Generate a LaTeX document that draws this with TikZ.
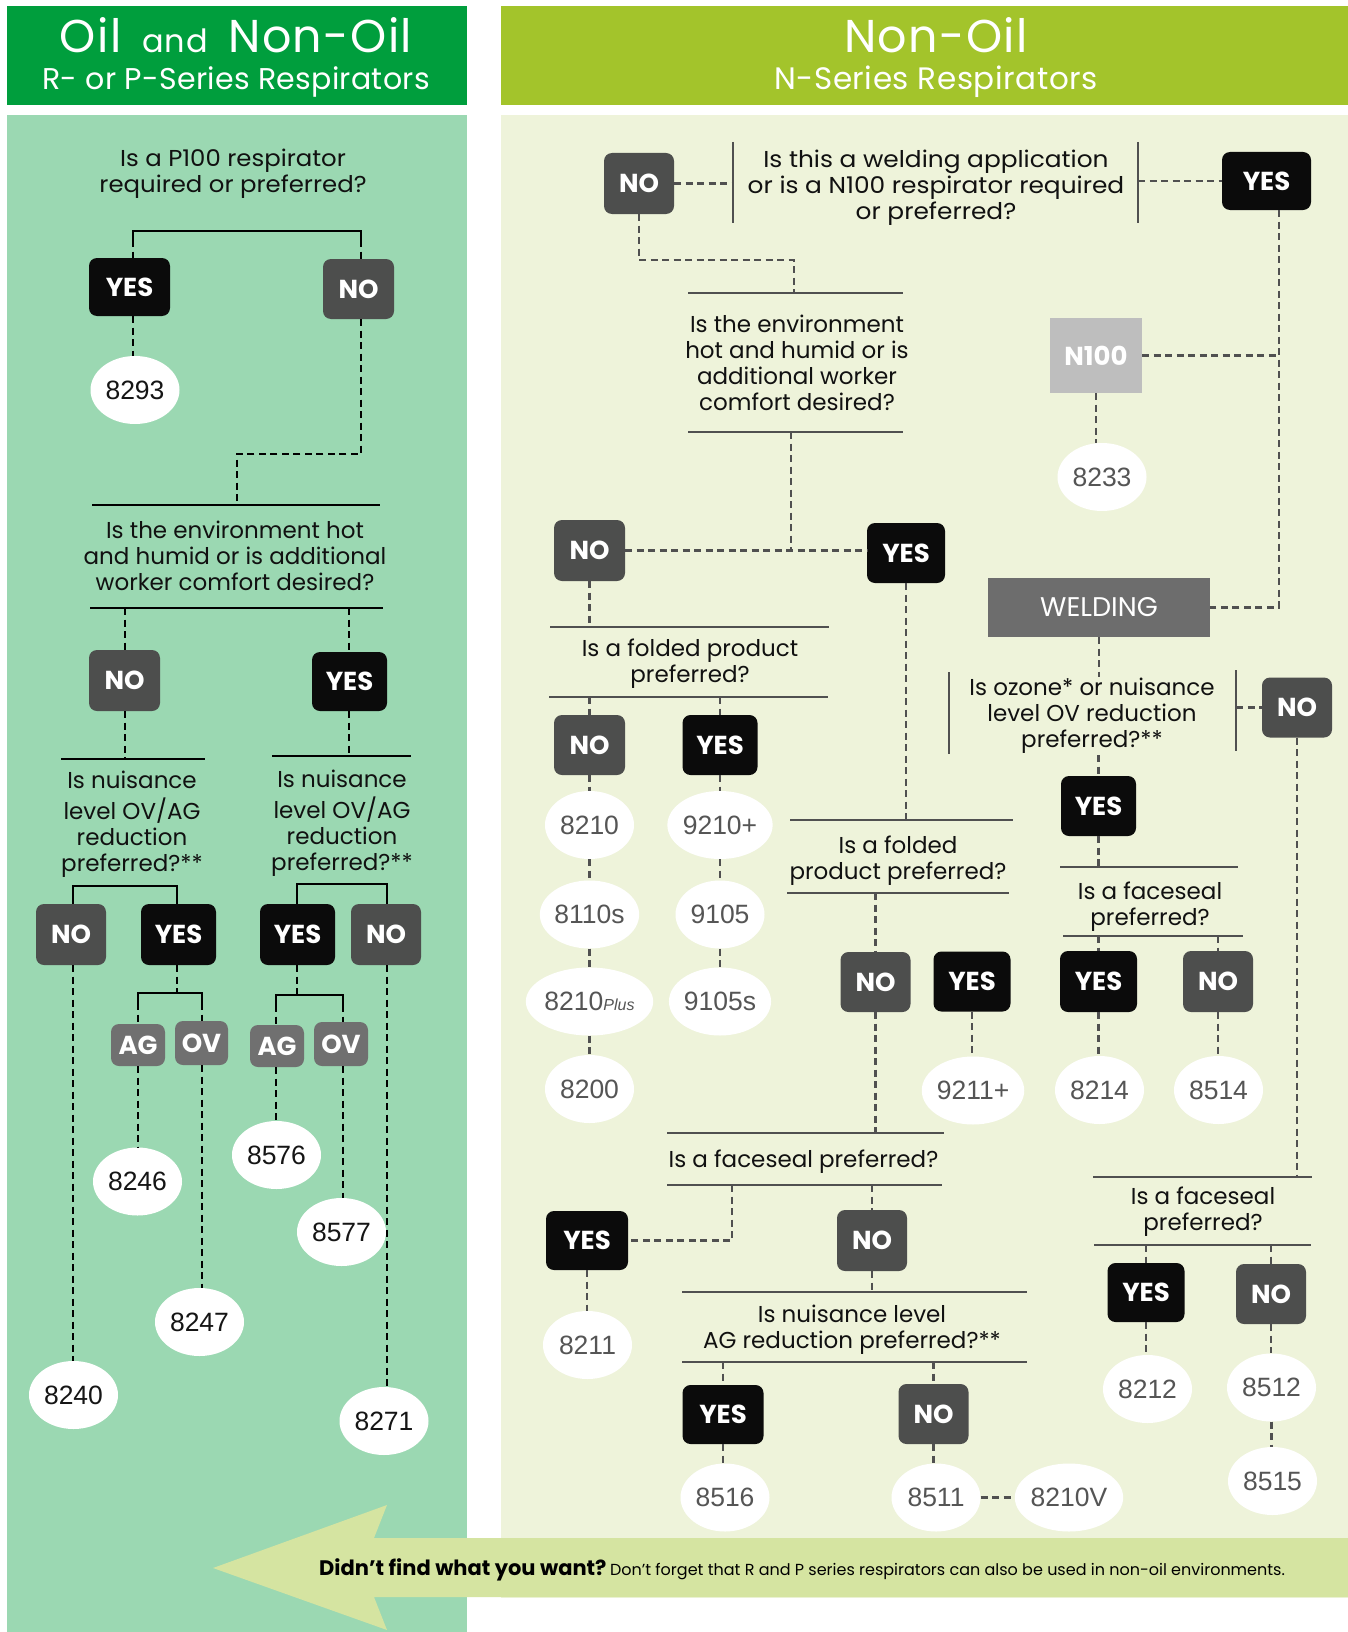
\documentclass[tikz,border=0pt]{standalone}
\usepackage{fontspec}
\setmainfont{Poppins}
\newfontfamily\mypop{Poppins}
\newfontfamily\mypopw{Poppins}[FakeStretch=1.06]
\newfontfamily\mypopww{Poppins}[FakeStretch=1.08]
\newfontfamily\myhead{Poppins}[LetterSpace=3]
\newfontfamily\myheadl{Poppins}[LetterSpace=1]
\newfontfamily\myheadr{Poppins}[LetterSpace=1.8]
\newfontfamily\mynumf{Liberation Sans}
\usetikzlibrary{calc,shapes.geometric}
\definecolor{hdgreen}{HTML}{009E3D}
\definecolor{hdlime}{HTML}{A3C42B}
\definecolor{bodyg}{HTML}{9BD8B2}
\definecolor{bodyl}{HTML}{EEF3DA}
\definecolor{banc}{HTML}{D5E4A1}
\definecolor{yesc}{HTML}{0B0B0B}
\definecolor{noc}{HTML}{4D4E4D}
\definecolor{agc}{HTML}{707070}
\definecolor{nhc}{HTML}{BEBEBE}
\definecolor{weldc}{HTML}{6D6D6D}
\definecolor{lineg}{HTML}{505050}
\definecolor{numg}{HTML}{555555}
\definecolor{numk}{HTML}{151515}
\definecolor{qk}{HTML}{111111}
\newcommand\myqf{\mypop\fontsize{23}{26}\selectfont}
\newcommand\myqfw{\mypopw\fontsize{23}{26}\selectfont}
\newcommand\myqfww{\mypopww\fontsize{23}{26}\selectfont}
\newcommand\mybf{\mypop\bfseries\fontsize{26}{28}\selectfont}
\newcommand\mynf{\mynumf\fontsize{26.5}{28}\selectfont}
\tikzset{
  rk/.style={draw=black, line width=2.6pt},
  dk/.style={draw=black, line width=2.4pt, dash pattern=on 7pt off 4.5pt},
  rg/.style={draw=lineg, line width=2.6pt},
  dg/.style={draw=lineg, line width=2.4pt, dash pattern=on 7pt off 4.5pt},
  bx/.style={rectangle, rounded corners=8pt, inner sep=0pt, text=white, font=\mybf},
  yb/.style={bx, fill=yesc},
  nb/.style={bx, fill=noc},
  gb/.style={bx, fill=agc},
  ovbase/.style={ellipse, fill=white, inner sep=0pt, minimum width=89pt, minimum height=68pt, font=\mynf},
  ovl/.style={ovbase, text=numk},
  ovr/.style={ovbase, text=numg},
  qq/.style={align=center, inner sep=0pt, font=\myqf, text=qk},
}
\begin{document}
\begin{tikzpicture}[x=1pt,y=-1pt]
\useasboundingbox (0,0) rectangle (1348,1632);
% ---------- backgrounds ----------
\fill[white] (0,0) rectangle (1348,1632);
\fill[hdgreen] (7,6) rectangle (467,105);
\fill[hdlime] (501,6) rectangle (1348,105);
\fill[bodyg] (7,115) rectangle (467,1632);
\fill[bodyl] (501,115) rectangle (1348,1598);
\fill[banc] (213,1568) -- (387,1505) -- (374,1538) -- (1348,1538) -- (1348,1597) -- (374,1597) -- (387,1630) -- cycle;
% ---------- headers ----------
\node[anchor=base, text=white, inner sep=0pt] (h1) at (236,53) {\myhead\fontsize{46}{50}\selectfont Oil\hspace{7pt} {\fontsize{32}{34}\selectfont and}\hspace{7pt} Non-Oil};
\node[anchor=base, text=white, inner sep=0pt] (h1b) at (236,90) {\myheadl\fontsize{30}{34}\selectfont R- or P-Series Respirators};
\node[anchor=base, text=white, inner sep=0pt] (h2) at (936,53) {\myhead\fontsize{46}{50}\selectfont Non-Oil};
\node[anchor=base, text=white, inner sep=0pt] (h2b) at (936,90) {\myheadr\fontsize{31}{34}\selectfont N-Series Respirators};
% ---------- banner text ----------
\node[anchor=base west, inner sep=0pt, text=black] (bant) at (319,1575) {{\mypop\bfseries\fontsize{21}{24}\selectfont Didn’t find what you want?} {\mypop\fontsize{16}{18}\selectfont Don’t forget that R and P series respirators can also be used in non-oil environments.}};

% =============== LEFT PANEL ===============
\node[qq, font=\myqfw] (q1) at (233,174.8) {\strut Is a P100 respirator\\\strut required or preferred?};
\coordinate (b1l) at (133,231); \coordinate (b1r) at (361,231);
\node[yb, minimum width=81pt, minimum height=58pt] (yes1) at (129.5,287) {YES};
\node[nb, minimum width=71pt, minimum height=60pt] (no1) at (358.5,289) {NO};
\node[ovl] (o8293) at (135,390) {8293};
\draw[rk] ($(b1l)+(0,9)$) -- (b1l) -- (b1r) -- ($(b1r)+(0,9)$);
\draw[dk] ($(b1l)+(0,9)$) -- (b1l |- yes1.north);
\draw[dk] ($(b1r)+(0,9)$) -- (b1r |- no1.north);
\draw[dk] (b1l |- yes1.south) -- (b1l |- o8293.north);

\coordinate (j1) at (237,454);
\coordinate (q2a) at (92,505); \coordinate (q2b) at (380,505);
\coordinate (q2c) at (90,608); \coordinate (q2d) at (383,608);
\draw[rk] (q2a) -- (q2b);
\draw[rk] (q2c) -- (q2d);
\node[qq] (q2) at (235,558.8) {\strut Is the environment hot\\\strut and humid or is additional\\\strut worker comfort desired?};
\draw[dk] (b1r |- no1.south) |- (j1) -- (j1 |- q2a);

\node[nb, minimum width=71pt, minimum height=61pt] (no2) at (124.5,680.5) {NO};
\node[yb, minimum width=75pt, minimum height=59pt] (yes2) at (349.5,681.5) {YES};
\coordinate (x125) at (125,0); \coordinate (x349) at (349,0);
\draw[dk] (x125 |- q2c) -- (x125 |- no2.north);
\draw[dk] (x349 |- q2c) -- (x349 |- yes2.north);
\coordinate (q3aL) at (61,759); \coordinate (q3aR) at (205,759);
\coordinate (q3bL) at (272,756); \coordinate (q3bR) at (411,756);
\draw[rk] (q3aL) -- (q3aR);
\draw[rk] (q3bL) -- (q3bR);
\draw[dk] (x125 |- no2.south) -- (x125 |- q3aL);
\draw[dk] (x349 |- yes2.south) -- (x349 |- q3bL);
\node[qq] (q3a) at (132,824.8) {\strut Is nuisance\\\strut level OV/AG\\\strut reduction\\\strut preferred?**};
\node[qq] (q3b) at (342,823.8) {\strut Is nuisance\\\strut level OV/AG\\\strut reduction\\\strut preferred?**};

\node[nb, minimum width=70pt, minimum height=61pt] (no3a) at (71,934.5) {NO};
\node[yb, minimum width=75pt, minimum height=61pt] (yes3a) at (178.5,934.5) {YES};
\node[yb, minimum width=75pt, minimum height=61pt] (yes3b) at (297.5,934.5) {YES};
\node[nb, minimum width=70pt, minimum height=61pt] (no3b) at (386,934.5) {NO};
\coordinate (c3l) at (73,886); \coordinate (c3r) at (177,886);
\coordinate (d3l) at (297,884); \coordinate (d3r) at (387,884);
\draw[rk] (c3l |- no3a.north) |- (c3r) -- (c3r |- yes3a.north);
\draw[rk] (d3l |- yes3b.north) |- (d3r) -- (d3r |- no3b.north);

\node[gb, minimum width=54pt, minimum height=42pt] (ag1) at (138,1045) {AG};
\node[gb, minimum width=53pt, minimum height=44pt] (ov1) at (201.5,1043) {OV};
\node[gb, minimum width=54pt, minimum height=42pt] (ag2) at (277,1046) {AG};
\node[gb, minimum width=54pt, minimum height=44pt] (ov2) at (341,1044) {OV};
\coordinate (e1l) at (138,993); \coordinate (e1r) at (202,993); \coordinate (e1m) at (177,993);
\coordinate (e2l) at (276,995); \coordinate (e2r) at (343,995); \coordinate (e2m) at (297,995);
\draw[dk] (e1m |- yes3a.south) -- (e1m);
\draw[dk] (e2m |- yes3b.south) -- (e2m);
\draw[rk] ($(e1l)+(0,10)$) -- (e1l) -- (e1r) -- ($(e1r)+(0,10)$);
\draw[rk] ($(e2l)+(0,10)$) -- (e2l) -- (e2r) -- ($(e2r)+(0,10)$);
\draw[dk] ($(e1l)+(0,10)$) -- (e1l |- ag1.north);
\draw[dk] ($(e1r)+(0,10)$) -- (e1r |- ov1.north);
\draw[dk] ($(e2l)+(0,10)$) -- (e2l |- ag2.north);
\draw[dk] ($(e2r)+(0,10)$) -- (e2r |- ov2.north);

\node[ovl] (o8240) at (73.5,1395) {8240};
\node[ovl] (o8246) at (137.5,1181.5) {8246};
\node[ovl] (o8247) at (199.5,1322) {8247};
\node[ovl] (o8576) at (276.5,1155) {8576};
\node[ovl] (o8577) at (341.5,1232) {8577};
\node[ovl] (o8271) at (384,1421) {8271};
\draw[dk] (c3l |- no3a.south) -- (c3l |- o8240.north);
\draw[dk] (e1l |- ag1.south) -- (e1l |- o8246.north);
\draw[dk] (e1r |- ov1.south) -- (e1r |- o8247.north);
\draw[dk] (e2l |- ag2.south) -- (e2l |- o8576.north);
\draw[dk] (e2r |- ov2.south) -- (e2r |- o8577.north);
\draw[dk] (d3r |- no3b.south) -- (d3r |- o8271.north);

% =============== RIGHT PANEL ===============
\node[nb, minimum width=70pt, minimum height=61pt] (noT) at (639,183.5) {NO};
\node[yb, minimum width=89pt, minimum height=58pt] (yesT) at (1266.5,181) {YES};
\node[qq, font=\myqfww] (qT) at (936,187.8) {\strut Is this a welding application\\\strut or is a N100 respirator required\\\strut or preferred?};
\coordinate (tL1) at (733,142); \coordinate (tL2) at (733,223);
\coordinate (tR1) at (1138,142); \coordinate (tR2) at (1138,223);
\draw[rg] (tL1) -- (tL2);
\draw[rg] (tR1) -- (tR2);
\draw[dg] (noT.east) -- (noT.east -| tL1);
\draw[dg] (tR1 |- yesT.west) -- (yesT.west);

\coordinate (jE) at (794,260);
\coordinate (eA) at (688,293); \coordinate (eB) at (903,293);
\coordinate (eC) at (688,432); \coordinate (eD) at (903,432);
\draw[rg] (eA) -- (eB);
\draw[rg] (eC) -- (eD);
\draw[dg] (noT.south) |- (jE) -- (jE |- eA);
\node[qq] (qE) at (797,365.8) {\strut Is the environment\\\strut hot and humid or is\\\strut additional worker\\\strut comfort desired?};

\coordinate (vY) at (1279,0);
\node[rectangle, fill=nhc, inner sep=0pt, minimum width=92pt, minimum height=75pt, text=white, font=\mybf] (n100) at (1096,355.5) {N100};
\node[ovr] (o8233) at (1102,477) {8233};
\node[rectangle, fill=weldc, inner sep=0pt, minimum width=222pt, minimum height=59pt, text=white, font=\mypop\fontsize{27}{30}\selectfont] (weld) at (1099,607.5) {WELDING};
\draw[dg] (vY |- yesT.south) |- (weld.east);
\draw[dg] (n100.east) -- (n100.east -| vY);
\draw[dg] (n100.south) -- (n100.south |- o8233.north);

\node[nb, minimum width=71pt, minimum height=61pt] (noE) at (589.5,550.5) {NO};
\node[yb, minimum width=78pt, minimum height=60pt] (yesE) at (906,553) {YES};
\coordinate (jNY) at (791,551);
\draw[dg] (jNY |- eC) -- (jNY);
\draw[dg] (noE.east) -- (noE.east -| yesE.west);

\coordinate (fA) at (550,627); \coordinate (fB) at (829,627);
\coordinate (fC) at (549,697); \coordinate (fD) at (828,697);
\draw[rg] (fA) -- (fB);
\draw[rg] (fC) -- (fD);
\node[qq] (qF) at (690,663.8) {\strut Is a folded product\\\strut preferred?};
\draw[dg] (noE.south) -- (noE.south |- fA);
\node[nb, minimum width=71pt, minimum height=60pt] (noF) at (589.5,745) {NO};
\node[yb, minimum width=75pt, minimum height=60pt] (yesF) at (720,745) {YES};
\draw[dg] (noF.north |- fC) -- (noF.north);
\draw[dg] (yesF.north |- fC) -- (yesF.north);
\node[ovr] (o8210) at (589.5,825) {8210};
\node[ovr] (o8110s) at (589.5,914.5) {8110s};
\node[ovr] (o8210p) at (589.5,1001.5) {8210{\itshape\fontsize{16}{18}\selectfont Plus}};
\node[ovr] (o8200) at (589.5,1089) {8200};
\node[ovr] (o9210) at (720,825) {9210+};
\node[ovr] (o9105) at (720,914.5) {9105};
\node[ovr] (o9105s) at (720,1001.5) {9105s};
\draw[dg] (noF.south) -- (o8210.north);
\draw[dg] (o8210.south) -- (o8110s.north);
\draw[dg] (o8110s.south) -- (o8210p.north);
\draw[dg] (o8210p.south) -- (o8200.north);
\draw[dg] (yesF.south) -- (o9210.north);
\draw[dg] (o9210.south) -- (o9105.north);
\draw[dg] (o9105.south) -- (o9105s.north);

\coordinate (gA) at (790,820); \coordinate (gB) at (1013,820);
\coordinate (gC) at (787,893); \coordinate (gD) at (1009,893);
\draw[rg] (gA) -- (gB);
\draw[rg] (gC) -- (gD);
\draw[dg] (yesE.south) -- (yesE.south |- gA);
\node[qq] (qG) at (898,860.8) {\strut Is a folded\\\strut product preferred?};
\node[nb, minimum width=70pt, minimum height=60pt] (noG) at (875.5,982) {NO};
\node[yb, minimum width=77pt, minimum height=60pt] (yesG) at (972,981.5) {YES};
\draw[dg] (noG.north |- gC) -- (noG.north);
\node[ovr] (o9211) at (973,1090.5) {9211+};
\draw[dg] (yesG.south) -- (yesG.south |- o9211.north);

\coordinate (hA) at (667,1133); \coordinate (hB) at (944,1133);
\coordinate (hC) at (667,1185); \coordinate (hD) at (942,1185);
\draw[rg] (hA) -- (hB);
\draw[rg] (hC) -- (hD);
\draw[dg] (noG.south) -- (noG.south |- hA);
\node[qq] (qH) at (803.5,1161.8) {\strut Is a faceseal preferred?};
\node[yb, minimum width=82pt, minimum height=59pt] (yesI) at (587,1240.5) {YES};
\node[nb, minimum width=70pt, minimum height=61pt] (noI) at (872,1240.5) {NO};
\coordinate (x732) at (732,0);
\draw[dg] (x732 |- hC) |- (yesI.east);
\draw[dg] (noI.north |- hC) -- (noI.north);
\node[ovr] (o8211) at (587.5,1345) {8211};
\draw[dg] (yesI.south) -- (yesI.south |- o8211.north);

\coordinate (iA) at (682,1292); \coordinate (iB) at (1027,1292);
\coordinate (iC) at (682,1362); \coordinate (iD) at (1027,1362);
\draw[rg] (iA) -- (iB);
\draw[rg] (iC) -- (iD);
\draw[dg] (noI.south) -- (noI.south |- iA);
\node[qq] (qI) at (852,1329.8) {\strut Is nuisance level\\\strut AG reduction preferred?**};
\node[yb, minimum width=81pt, minimum height=59pt] (yesJ) at (723,1414.5) {YES};
\node[nb, minimum width=70pt, minimum height=60pt] (noJ) at (933.5,1414) {NO};
\draw[dg] (yesJ.north |- iC) -- (yesJ.north);
\draw[dg] (noJ.north |- iC) -- (noJ.north);
\node[ovr] (o8516) at (725,1497.5) {8516};
\node[ovr] (o8511) at (936,1497.5) {8511};
\node[ovr] (o8210v) at (1069,1497.5) {8210V};
\draw[dg] (yesJ.south) -- (yesJ.south |- o8516.north);
\draw[dg] (noJ.south) -- (noJ.south |- o8511.north);
\draw[dg] (o8511.east) -- (o8210v.west);

% ozone branch
\node[qq] (qZ) at (1092,715.8) {\strut Is ozone* or nuisance\\\strut level OV reduction\\\strut preferred?**};
\coordinate (zL1) at (949,672); \coordinate (zL2) at (949,754);
\coordinate (zR1) at (1236,670); \coordinate (zR2) at (1236,751);
\draw[rg] (zL1) -- (zL2);
\draw[rg] (zR1) -- (zR2);
\draw[dg] (weld.south) -- (weld.south |- qZ.north);
\node[nb, minimum width=70pt, minimum height=60pt] (noZ) at (1297,707.5) {NO};
\draw[dg] (zR1 |- noZ.west) -- (noZ.west);
\node[yb, minimum width=75pt, minimum height=60pt] (yesZ) at (1098.5,806) {YES};
\draw[dg] (yesZ.north |- qZ.south) -- (yesZ.north);

\coordinate (kA) at (1060,867); \coordinate (kB) at (1238,867);
\coordinate (kC) at (1063,936); \coordinate (kD) at (1243,936);
\draw[rg] (kA) -- (kB);
\draw[rg] (kC) -- (kD);
\draw[dg] (yesZ.south) -- (yesZ.south |- kA);
\node[qq] (qK) at (1150,906.8) {\strut Is a faceseal\\\strut preferred?};
\node[yb, minimum width=77pt, minimum height=61pt] (yesH) at (1098.5,981.5) {YES};
\node[nb, minimum width=70pt, minimum height=61pt] (noH) at (1218,981.5) {NO};
\draw[dg] (yesH.north |- kC) -- (yesH.north);
\draw[dg] (noH.north |- kC) -- (noH.north);
\node[ovr] (o8214) at (1099.5,1090) {8214};
\node[ovr] (o8514) at (1218.5,1090) {8514};
\draw[dg] (yesH.south) -- (yesH.south |- o8214.north);
\draw[dg] (noH.south) -- (noH.south |- o8514.north);

\coordinate (mA) at (1093,1177); \coordinate (mB) at (1312,1177);
\coordinate (mC) at (1094,1245); \coordinate (mD) at (1311,1245);
\draw[rg] (mA) -- (mB);
\draw[rg] (mC) -- (mD);
\draw[dg] (noZ.south) -- (noZ.south |- mA);
\node[qq] (qM) at (1203,1211.8) {\strut Is a faceseal\\\strut preferred?};
\node[yb, minimum width=77pt, minimum height=59pt] (yesK) at (1146,1292.5) {YES};
\node[nb, minimum width=70pt, minimum height=60pt] (noK) at (1271,1294) {NO};
\draw[dg] (yesK.north |- mC) -- (yesK.north);
\draw[dg] (noK.north |- mC) -- (noK.north);
\node[ovr] (o8212) at (1147.5,1389) {8212};
\node[ovr] (o8512) at (1271.5,1387.5) {8512};
\node[ovr] (o8515) at (1272.5,1481) {8515};
\draw[dg] (yesK.south) -- (yesK.south |- o8212.north);
\draw[dg] (noK.south) -- (noK.south |- o8512.north);
\draw[dg] (o8512.south) -- (o8512.south |- o8515.north);
\end{tikzpicture}
\end{document}
